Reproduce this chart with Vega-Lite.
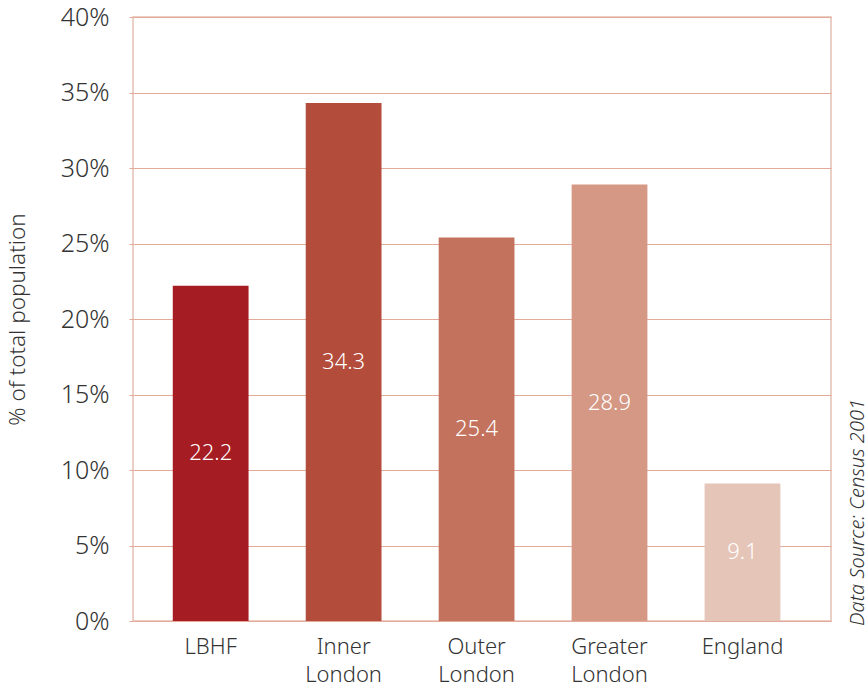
{
  "$schema": "https://vega.github.io/schema/vega-lite/v6.json",
  "autosize": {"type": "none"},
  "width": 698,
  "height": 604,
  "padding": {"left": 133, "top": 17, "right": 37, "bottom": 68},
  "config": {
    "font": "Noto Sans",
    "view": {"stroke": "#E6C0B1", "strokeWidth": 1.5},
    "axis": {"labelColor": "#333333", "titleColor": "#333333", "titleFontWeight": "normal"}
  },
  "data": {
    "values": [
      {"area": "LBHF", "value": 22.2},
      {"area": "Inner London", "value": 34.3},
      {"area": "Outer London", "value": 25.4},
      {"area": "Greater London", "value": 28.9},
      {"area": "England", "value": 9.1}
    ]
  },
  "transform": [{"calculate": "datum.value / 2", "as": "mid"}],
  "encoding": {
    "x": {
      "field": "area",
      "type": "nominal",
      "sort": null,
      "scale": {"paddingInner": 0.43, "paddingOuter": 0.34, "align": 0.44},
      "axis": {
        "title": null,
        "labelAngle": 0,
        "labelFontSize": 22,
        "labelFontWeight": 300,
        "labelPadding": 15,
        "labelLineHeight": 28,
        "labelBaseline": "top",
        "labelExpr": "split(datum.label, ' ')",
        "ticks": false,
        "domain": false
      }
    }
  },
  "layer": [
    {
      "mark": {"type": "bar"},
      "encoding": {
        "y": {
          "field": "value",
          "type": "quantitative",
          "scale": {"domain": [0, 40], "nice": false},
          "axis": {
            "title": "% of total population",
            "titleFontSize": 22.5,
            "titleFontWeight": 300,
            "titlePadding": 31,
            "values": [0, 5, 10, 15, 20, 25, 30, 35, 40],
            "labelExpr": "datum.value + '%'",
            "labelFontSize": 25,
            "labelFontWeight": 300,
            "labelPadding": 20,
            "tickSize": 4,
            "tickColor": "#E3A999",
            "grid": true,
            "gridColor": "#E3A999",
            "gridWidth": 1,
            "domain": false
          }
        },
        "color": {
          "field": "area",
          "type": "nominal",
          "sort": null,
          "legend": null,
          "scale": {
            "domain": ["LBHF", "Inner London", "Outer London", "Greater London", "England"],
            "range": ["#A51C22", "#B34C3A", "#C3725D", "#D49885", "#E5C5B8"]
          }
        }
      }
    },
    {
      "mark": {"type": "text", "color": "#FFFFFF", "fontSize": 22, "fontWeight": 300, "baseline": "middle"},
      "encoding": {
        "y": {
          "field": "mid",
          "type": "quantitative",
          "axis": {
            "orient": "right",
            "title": "Data Source: Census 2001",
            "titleFontSize": 20,
            "titleFontStyle": "italic",
            "titleFontWeight": 300,
            "titleAngle": -90,
            "titleX": 26,
            "titleY": 495,
            "titleAlign": "center",
            "titleBaseline": "middle",
            "labels": false,
            "ticks": false,
            "domain": false,
            "grid": false
          }
        },
        "text": {"field": "value", "type": "quantitative", "format": ".1f"}
      }
    }
  ],
  "resolve": {"axis": {"y": "independent"}}
}
